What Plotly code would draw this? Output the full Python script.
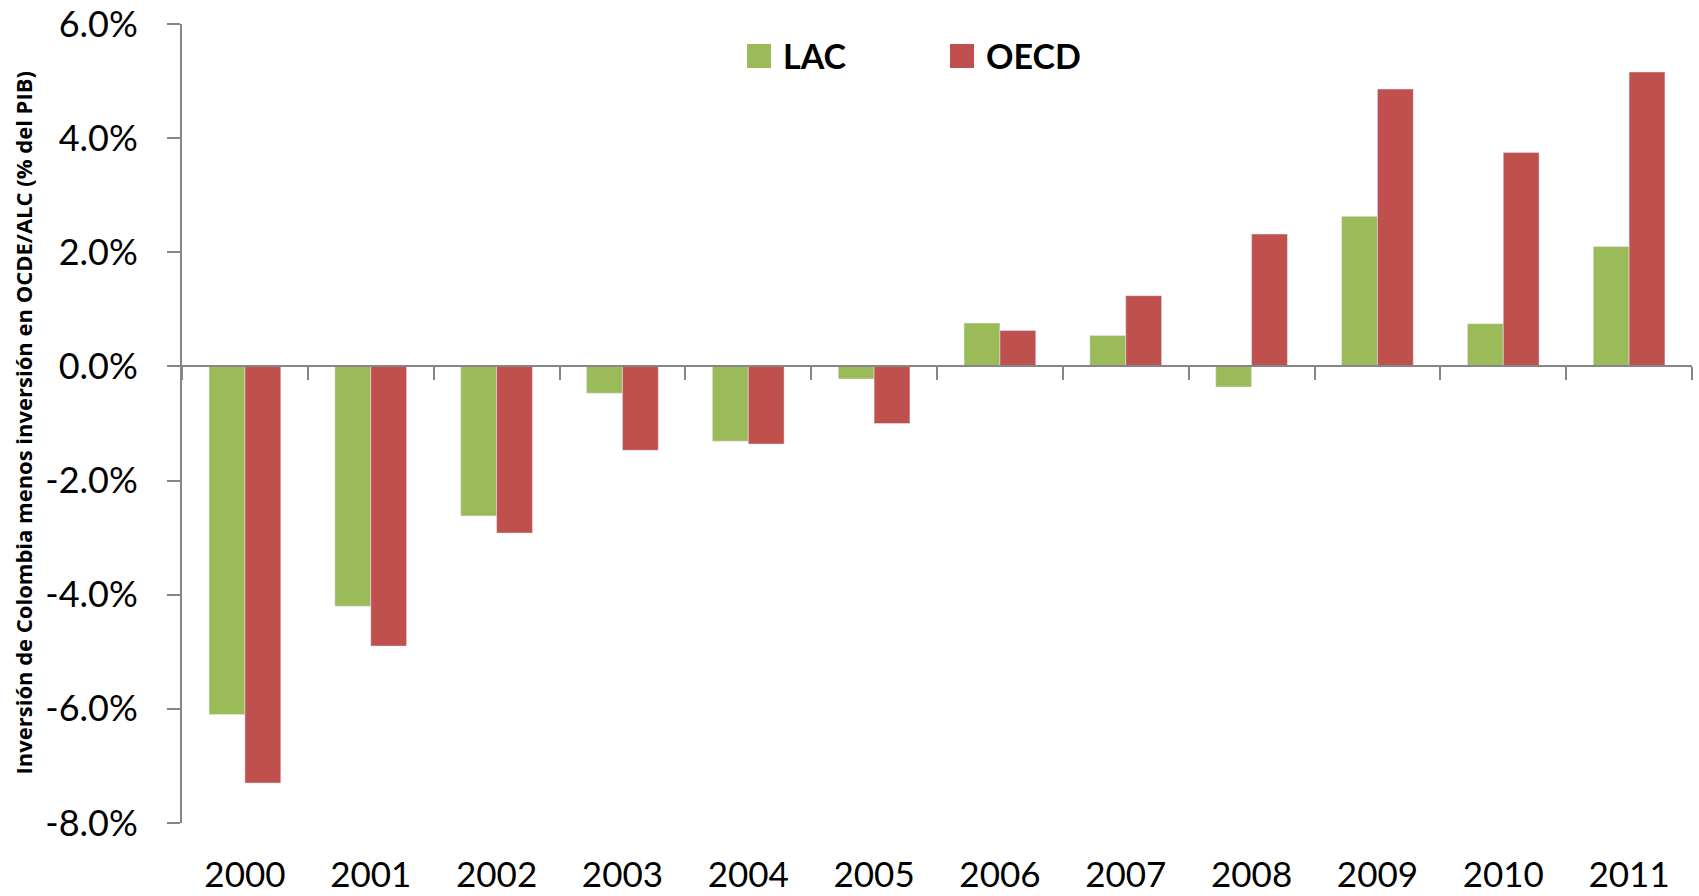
import plotly.graph_objects as go

years = ["2000", "2001", "2002", "2003", "2004", "2005", "2006", "2007", "2008", "2009", "2010", "2011"]
lac = [-6.1, -4.2, -2.62, -0.47, -1.31, -0.22, 0.76, 0.54, -0.36, 2.63, 0.75, 2.10]
oecd = [-7.3, -4.9, -2.92, -1.47, -1.36, -1.0, 0.63, 1.24, 2.32, 4.86, 3.75, 5.16]
series_names = ["LAC", "OECD"]
y_tickvals = [-8, -6, -4, -2, 0, 2, 4, 6]
y_ticktext = ["-8.0%", "-6.0%", "-4.0%", "-2.0%", "0.0%", "2.0%", "4.0%", "6.0%"]
y_title = "Inversión de Colombia menos inversión en OCDE/ALC (% del PIB)"

GREEN = "#9BBB59"
RED = "#C0504D"
AXIS = "#868686"
FONT = "Lato"

fig = go.Figure()
fig.add_trace(go.Bar(x=years, y=lac, name=series_names[0], marker_color=GREEN, showlegend=False))
fig.add_trace(go.Bar(x=years, y=oecd, name=series_names[1], marker_color=RED, showlegend=False))

W, H = 1699, 896
L, R, T, B = 182, 7, 24, 73
pw, ph = W - L - R, H - T - B
ymin, ymax = -8, 6
zero_pos = (0 - ymin) / (ymax - ymin)

fig.update_layout(
    width=W, height=H,
    margin=dict(l=L, r=R, t=T, b=B, autoexpand=False),
    paper_bgcolor="white", plot_bgcolor="white",
    barmode="group", bargap=0.43, bargroupgap=0,
    font=dict(family=FONT, color="black"),
    xaxis=dict(
        type="category", anchor="free", position=zero_pos, automargin=False,
        showline=True, linecolor=AXIS, linewidth=2,
        ticks="outside", ticklen=13, tickwidth=2, tickcolor=AXIS,
        tickson="boundaries", showgrid=False, zeroline=False,
        tickfont=dict(size=35, family=FONT, color="black"),
        ticklabelstandoff=478,
    ),
    yaxis=dict(
        range=[ymin, ymax], showgrid=False, zeroline=False, automargin=False,
        showline=True, linecolor=AXIS, linewidth=2,
        ticks="outside", ticklen=13, tickwidth=2, tickcolor=AXIS,
        tickvals=y_tickvals, ticktext=y_ticktext,
        tickfont=dict(size=36, family=FONT, color="black"),
        ticklabelstandoff=22,
    ),
)

def px_x(x):
    return (x - L) / pw

def px_y(y):
    return (H - B - y) / ph

# legend drawn as swatches + labels
legend_items = [(747, GREEN, series_names[0]), (950, RED, series_names[1])]
for x0, col, name in legend_items:
    fig.add_shape(type="rect", xref="paper", yref="paper",
                  x0=px_x(x0), x1=px_x(x0 + 24), y0=px_y(68), y1=px_y(44),
                  fillcolor=col, line_width=0)
    fig.add_annotation(xref="paper", yref="paper", x=px_x(x0 + 34), y=px_y(56),
                       xanchor="left", yanchor="middle", showarrow=False,
                       text="<b>%s</b>" % name, font=dict(size=34, family=FONT, color="black"))

fig.add_annotation(xref="paper", yref="paper", x=px_x(22), y=0.5,
                   xanchor="center", yanchor="middle", showarrow=False, textangle=-90,
                   text="<b>%s</b>" % y_title, font=dict(size=22, family="Open Sans", color="black"))

fig.write_html("out.html", config={"displayModeBar": False},
               post_script="document.body.style.margin='0';document.body.style.overflow='hidden';")
